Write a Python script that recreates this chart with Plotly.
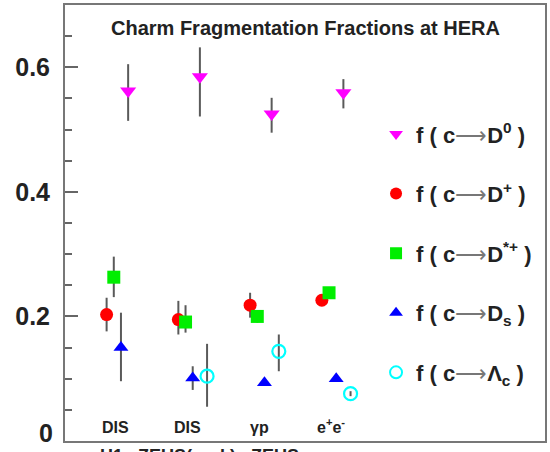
import plotly.graph_objects as go

# ---- data ----
categories = ["DIS", "DIS", "γp", "e<sup>+</sup>e<sup>-</sup>"]
experiments = "H1   ZEUS(prel.)   ZEUS"
ytick_vals = [0.2, 0.4, 0.6]
ytick_text = ["0.2", "0.4", "0.6"]

species = ["D0", "Dp", "Dstar", "Ds", "Lc"]
arrow = "<span style='color:#777;font-weight:normal'>⟶</span>"
sp = "\u00a0"
names = {
    "D0": f"f{sp}({sp}c{arrow}D<sup>0</sup>{sp})",
    "Dp": f"f{sp}({sp}c{arrow}D<sup>+</sup>{sp})",
    "Dstar": f"f{sp}({sp}c{arrow}D<sup>*+</sup>{sp})",
    "Ds": f"f{sp}({sp}c{arrow}D<sub>s</sub>{sp})",
    "Lc": f"f{sp}({sp}c{arrow}Λ<sub>c</sub>{sp})",
}

f_D0 = [0.562, 0.585, 0.525, 0.559]
f_D0_up = [0.043, 0.047, 0.026, 0.022]
f_D0_dn = [0.048, 0.064, 0.030, 0.025]

f_Dp = [0.203, 0.195, 0.218, 0.226]
f_Dp_up = [0.027, 0.030, 0.020, 0.006]
f_Dp_dn = [0.027, 0.024, 0.020, 0.009]

f_Dstar = [0.263, 0.191, 0.200, 0.238]
f_Dstar_up = [0.033, 0.027, 0.009, 0.005]
f_Dstar_dn = [0.032, 0.017, 0.010, 0.005]

f_Ds = [0.150, 0.101, 0.0935, 0.100]
f_Ds_up = [0.056, 0.019, 0.004, 0.004]
f_Ds_dn = [0.054, 0.019, 0.004, 0.004]

f_Lc = [None, 0.104, 0.144, 0.076]
f_Lc_up = [0, 0.052, 0.027, 0.004]
f_Lc_dn = [0, 0.049, 0.032, 0.004]

# ---- styles ----
offsets = {"D0": 0.2, "Dp": -0.1, "Dstar": 0.0, "Ds": 0.1, "Lc": 0.3}
styles = {
    "D0": dict(symbol="triangle-down", color="#ff00ff", size=14),
    "Dp": dict(symbol="circle", color="#ff0000", size=13),
    "Dstar": dict(symbol="square", color="#00ee00", size=13),
    "Ds": dict(symbol="triangle-up", color="#0000ff", size=13),
    "Lc": dict(symbol="circle-open", color="#00ffff", size=13),
}
values = {
    "D0": (f_D0, f_D0_up, f_D0_dn),
    "Dp": (f_Dp, f_Dp_up, f_Dp_dn),
    "Dstar": (f_Dstar, f_Dstar_up, f_Dstar_dn),
    "Ds": (f_Ds, f_Ds_up, f_Ds_dn),
    "Lc": (f_Lc, f_Lc_up, f_Lc_dn),
}

font = "Liberation Sans, Arial, sans-serif"
fig = go.Figure()
for i, s in enumerate(species):
    v, up, dn = values[s]
    st = styles[s]
    xs = [k + 1 + offsets[s] for k in range(len(categories))]
    marker = dict(symbol=st["symbol"], color=st["color"], size=st["size"],
                  line=dict(width=2.2 if s == "Lc" else 0, color=st["color"]))
    fig.add_trace(go.Scatter(
        x=xs, y=v, mode="markers", name=names[s], legendgroup=s,
        marker=marker,
        error_y=dict(type="data", symmetric=False, array=up, arrayminus=dn,
                     color="#5a5a5a", thickness=2, width=0),
    ))

annotations = []
for k, c in enumerate(categories):
    annotations.append(dict(x=k + 1 + 0.03, y=0.0, xref="x", yref="y", text=f"<b>{c}</b>",
                            showarrow=False, yanchor="bottom", yshift=3,
                            font=dict(family=font, size=16, color="#222")))
annotations.append(dict(x=0.5, y=0.947, xref="paper", yref="paper", yanchor="middle",
                        text="<b>Charm Fragmentation Fractions at HERA</b>",
                        showarrow=False, font=dict(family=font, size=20, color="#222")))
annotations.append(dict(x=0.068, y=-0.008, xref="paper", yref="paper", xanchor="left",
                        yanchor="top", text=f"<b>{experiments}</b>", showarrow=False,
                        font=dict(family=font, size=18, color="#222")))
# zero label of the y axis (drawn slightly raised, as in the reference)
annotations.append(dict(x=0, y=0, xref="paper", yref="y", xanchor="right", yanchor="middle",
                        xshift=-10, yshift=8, text="<b>0</b>", showarrow=False,
                        font=dict(family=font, size=25, color="#222")))

fig.update_layout(
    width=550, height=452,
    margin=dict(l=65, r=3, t=5, b=11),
    paper_bgcolor="white", plot_bgcolor="white",
    showlegend=True,
    legend=dict(x=0.648, y=0.752, xanchor="left", yanchor="top",
                font=dict(family=font, size=22, color="#222", weight="bold"),
                tracegroupgap=28, bgcolor="rgba(0,0,0,0)", itemsizing="constant"),
    annotations=annotations,
    xaxis=dict(range=[0.32, 7.01], showgrid=False, zeroline=False, showticklabels=False,
               ticks="", showline=True, linecolor="#777", linewidth=2, mirror=True),
    yaxis=dict(range=[0, 0.70], showgrid=False, zeroline=False,
               tickvals=ytick_vals, ticktext=ytick_text,
               ticks="inside", ticklen=13, tickwidth=1.5, tickcolor="#666",
               minor=dict(dtick=0.05, ticks="inside", ticklen=7, tickcolor="#666", tickwidth=1.5),
               ticklabelstandoff=8,
               tickfont=dict(family=font, size=25, color="#222", weight="bold"),
               showline=True, linecolor="#777", linewidth=2, mirror=True),
)

fig.write_html("out.html")
